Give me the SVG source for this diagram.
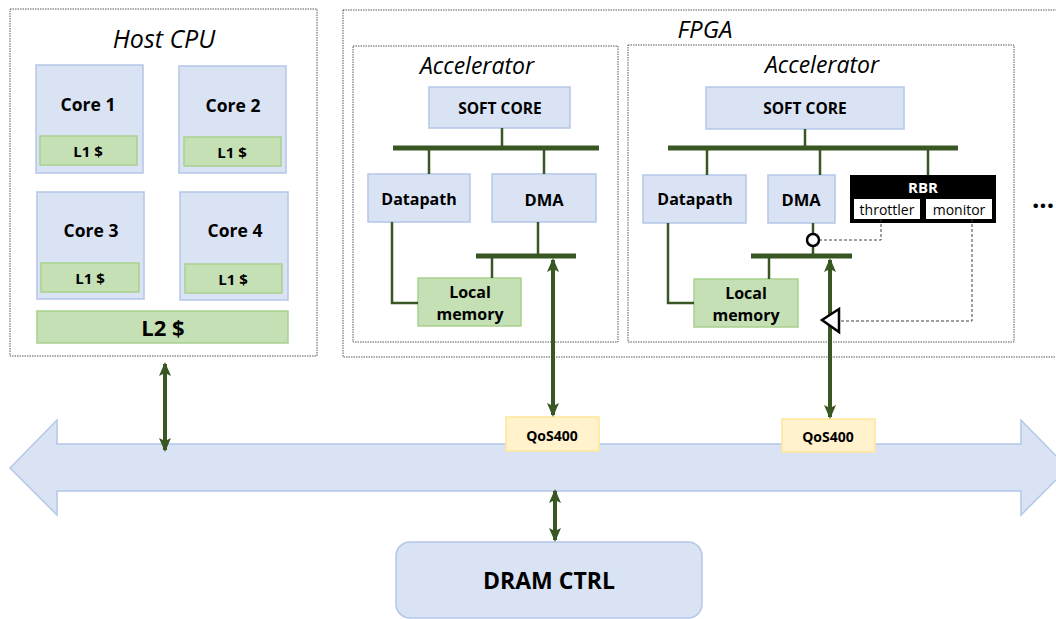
<svg xmlns="http://www.w3.org/2000/svg" width="1056" height="619" viewBox="0 0 1056 619">
<defs>
<style>
.frame{fill:none;stroke:#595959;stroke-width:1;stroke-dasharray:1.5,1}
.blue{fill:#dae3f3;stroke:#b4c7e7;stroke-width:1.5}
.green{fill:#c5e0b4;stroke:#a9d18e;stroke-width:1.5}
.yellow{fill:#fff2cc;stroke:#ffe699;stroke-width:1.5}
.t{font-family:"Open Sans","Liberation Sans",sans-serif;fill:#000;text-anchor:middle;dominant-baseline:central}
.b{font-weight:bold}
.i{font-style:italic}
.bus{stroke:#385723;stroke-width:5;fill:none}
.wire{stroke:#385723;stroke-width:2.5;fill:none}
.thick{stroke:#385723;stroke-width:4;fill:none}
.dash{stroke:#404040;stroke-width:1;fill:none;stroke-dasharray:3,2}
</style>
<marker id="ah" viewBox="0 0 14 12" refX="12" refY="6" markerWidth="14" markerHeight="12" markerUnits="userSpaceOnUse" orient="auto-start-reverse">
<path d="M0,0 L14,6 L0,12 L3,6 Z" fill="#385723"/>
</marker>
</defs>

<g id="host-cpu">
<rect class="frame" x="10" y="9" width="307" height="347"/>
<text class="t i" x="164" y="38" font-size="25">Host CPU</text>
</g>
<g id="core1">
<rect class="blue" x="36" y="65" width="107" height="108"/>
<text class="t b" x="88" y="104" font-size="17.5">Core 1</text>
<rect class="green" x="40" y="136" width="97" height="29"/>
<text class="t b" x="88" y="151" font-size="15">L1 $</text>
</g>
<g id="core2">
<rect class="blue" x="179" y="66" width="107" height="107"/>
<text class="t b" x="233" y="105" font-size="17.5">Core 2</text>
<rect class="green" x="184" y="137" width="97" height="29"/>
<text class="t b" x="232" y="152" font-size="15">L1 $</text>
</g>
<g id="core3">
<rect class="blue" x="37" y="192" width="107" height="107"/>
<text class="t b" x="91" y="230" font-size="17.5">Core 3</text>
<rect class="green" x="41" y="263" width="98" height="29"/>
<text class="t b" x="90" y="278" font-size="15">L1 $</text>
</g>
<g id="core4">
<rect class="blue" x="180" y="192" width="108" height="108"/>
<text class="t b" x="235" y="230" font-size="17.5">Core 4</text>
<rect class="green" x="185" y="264" width="97" height="29"/>
<text class="t b" x="233" y="279" font-size="15">L1 $</text>
</g>
<g id="l2">
<rect class="green" x="37" y="311" width="251" height="32"/>
<text class="t b" x="163" y="327" font-size="22">L2 $</text>
</g>

<g id="fpga">
<rect class="frame" x="343" y="10" width="720" height="347"/>
<text class="t i" x="705" y="28" font-size="24">FPGA</text>
</g>

<g id="accel1">
<rect class="frame" x="353" y="46" width="265" height="296"/>
<text class="t i" x="477" y="65" font-size="23">Accelerator</text>
</g>
<g id="softcore1">
<rect class="blue" x="429" y="87" width="141" height="41"/>
<text class="t b" x="500" y="108" font-size="15.5">SOFT CORE</text>
</g>
<g id="datapath1">
<rect class="blue" x="368" y="174" width="102" height="48"/>
<text class="t b" x="419" y="199" font-size="16">Datapath</text>
</g>
<g id="dma1">
<rect class="blue" x="492" y="174" width="104" height="48"/>
<text class="t b" x="544" y="199" font-size="16.5">DMA</text>
</g>
<g id="localmem1">
<rect class="green" x="418" y="278" width="103" height="48"/>
<text class="t b" x="470" y="292" font-size="16">Local</text>
<text class="t b" x="470" y="314" font-size="16">memory</text>
</g>

<g id="accel2">
<rect class="frame" x="628" y="45" width="386" height="297"/>
<text class="t i" x="822" y="64" font-size="23">Accelerator</text>
</g>
<g id="softcore2">
<rect class="blue" x="706" y="87" width="198" height="42"/>
<text class="t b" x="805" y="108" font-size="15.5">SOFT CORE</text>
</g>
<g id="datapath2">
<rect class="blue" x="643" y="175" width="103" height="48"/>
<text class="t b" x="695" y="199" font-size="16">Datapath</text>
</g>
<g id="dma2">
<rect class="blue" x="768" y="175" width="67" height="48"/>
<text class="t b" x="801" y="199" font-size="16.5">DMA</text>
</g>
<g id="localmem2">
<rect class="green" x="694" y="279" width="104" height="48"/>
<text class="t b" x="746" y="293" font-size="16">Local</text>
<text class="t b" x="746" y="315" font-size="16">memory</text>
</g>
<g id="rbr">
<rect x="850" y="175" width="146" height="48" fill="#000"/>
<text class="t b" x="923" y="187" font-size="15" style="fill:#fff">RBR</text>
<rect x="854" y="199" width="66" height="20" fill="#fff"/>
<text class="t" x="887" y="209" font-size="14">throttler</text>
<rect x="926" y="199" width="66" height="20" fill="#fff"/>
<text class="t" x="959" y="209" font-size="14">monitor</text>
</g>
<g id="more">
<text class="t b" x="1043" y="198" font-size="26">...</text>
</g>

<g id="system-bus">
<path d="M10,468 L57,420 L57,444 L1021,444 L1021,420 L1068,468 L1021,515 L1021,491 L57,491 L57,515 Z" fill="#dae3f3" stroke="#b4c7e7" stroke-width="1.5"/>
</g>

<g id="qos1">
<rect class="yellow" x="506" y="417" width="93" height="34"/>
<text class="t b" x="552" y="435" font-size="14">QoS400</text>
</g>
<g id="qos2">
<rect class="yellow" x="782" y="419" width="93" height="33"/>
<text class="t b" x="828" y="436" font-size="14">QoS400</text>
</g>

<g id="dram">
<rect class="blue" x="396" y="542" width="306" height="76" rx="14"/>
<text class="t b" x="549" y="580" font-size="23">DRAM CTRL</text>
</g>

<g id="connectors">
<line class="bus" x1="393" y1="148" x2="599" y2="148"/>
<line class="wire" x1="502" y1="128" x2="502" y2="148"/>
<line class="wire" x1="429" y1="148" x2="429" y2="174"/>
<line class="wire" x1="544" y1="148" x2="544" y2="174"/>
<line class="bus" x1="476" y1="256" x2="576" y2="256"/>
<line class="wire" x1="538" y1="222" x2="538" y2="256"/>
<line class="wire" x1="492" y1="256" x2="492" y2="278"/>
<polyline class="wire" points="392,222 392,303 418,303"/>
<line class="thick" x1="553" y1="260" x2="553" y2="415" marker-start="url(#ah)" marker-end="url(#ah)"/>
<line class="bus" x1="668" y1="148" x2="958" y2="148"/>
<line class="wire" x1="805" y1="129" x2="805" y2="148"/>
<line class="wire" x1="707" y1="148" x2="707" y2="175"/>
<line class="wire" x1="820" y1="148" x2="820" y2="175"/>
<line class="wire" x1="928" y1="148" x2="928" y2="175"/>
<line class="bus" x1="751" y1="256" x2="852" y2="256"/>
<line class="wire" x1="813" y1="223" x2="813" y2="234"/>
<line class="wire" x1="813" y1="246" x2="813" y2="256"/>
<circle cx="813" cy="240" r="6" fill="#fff" stroke="#000" stroke-width="2.5"/>
<line class="wire" x1="769" y1="256" x2="769" y2="279"/>
<polyline class="wire" points="668,223 668,303 694,303"/>
<line class="thick" x1="830" y1="260" x2="830" y2="417" marker-start="url(#ah)" marker-end="url(#ah)"/>
<polygon points="822,320 839,309 839,332" fill="#fff" stroke="#000" stroke-width="2.5"/>
<polyline class="dash" points="881,219 881,240 820,240"/>
<polyline class="dash" points="972,219 972,321 840,321"/>
<line class="thick" x1="165" y1="364" x2="165" y2="450" stroke-width="3" marker-start="url(#ah)" marker-end="url(#ah)"/>
<line class="thick" x1="555" y1="491" x2="555" y2="540" stroke-width="3" marker-start="url(#ah)" marker-end="url(#ah)"/>
</g>
</svg>
